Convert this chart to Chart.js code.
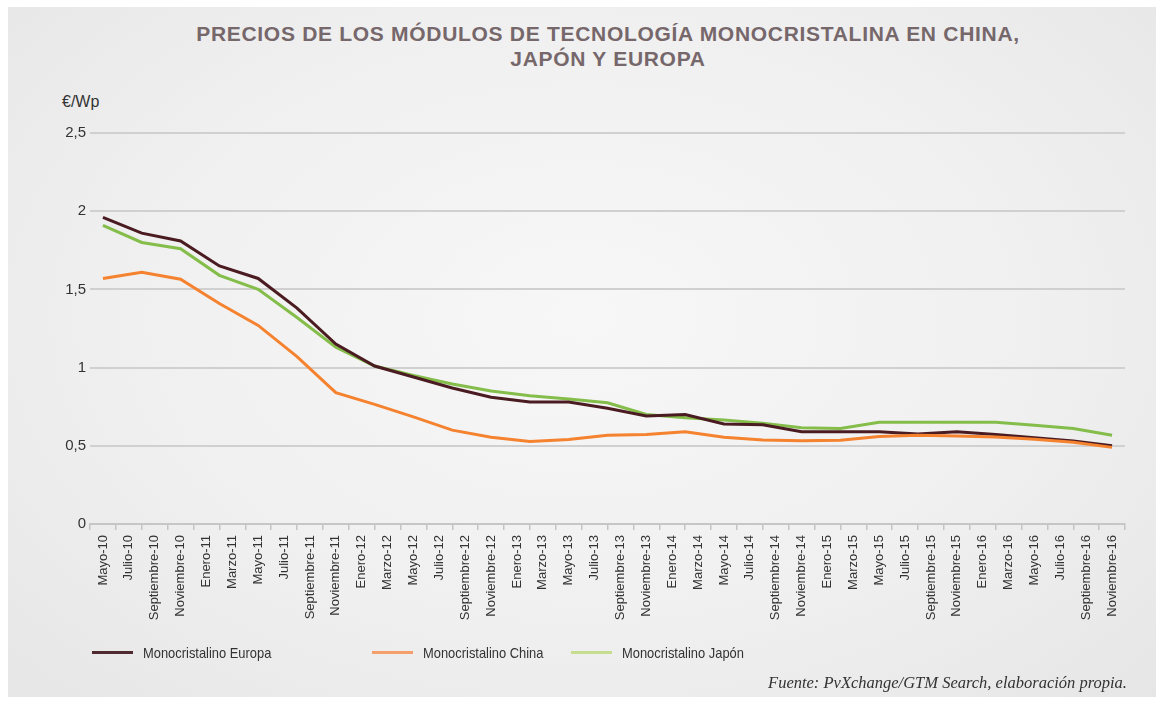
<!DOCTYPE html>
<html lang="es">
<head>
<meta charset="utf-8">
<title>Precios de los módulos monocristalinos</title>
<script src="https://cdn.jsdelivr.net/npm/chart.js@4.4.1/dist/chart.umd.min.js"></script>
<style>
  html, body { margin: 0; padding: 0; background: #fff; }
  body {
    width: 1164px; height: 704px; position: relative; overflow: hidden;
    font-family: "Liberation Sans", Arial, sans-serif;
  }
  .panel {
    position: absolute; left: 8px; top: 7px; right: 8px; bottom: 7px;
    background: radial-gradient(ellipse at 50% 45%, #f7f7f7 0%, #f0f0f0 55%, #e6e6e6 100%);
  }
  #chart { position: absolute; left: 0; top: 0; }
  .title {
    position: absolute; left: 26px; top: 21px; width: 1164px; text-align: center;
    font-weight: bold; font-size: 21px; line-height: 25px; letter-spacing: 0.7px; color: #76676b;
  }
  .unit { position: absolute; left: 62px; top: 93px; font-size: 16px; color: #333; }
  .legend-item {
    position: absolute; top: 643px; height: 18px; display: flex; align-items: center;
    font-size: 15px; color: #333; white-space: nowrap;
  }
  .legend-item i { display: inline-block; width: 41px; height: 3px; margin-right: 10px; flex: none; }
  .legend-item span { display: inline-block; transform: scaleX(0.86); transform-origin: left center; }
  .source {
    position: absolute; right: 37px; top: 673px;
    font-family: "Liberation Serif", serif; font-style: italic; font-size: 16.5px; color: #333;
  }
</style>
</head>
<body>
<div class="panel"></div>
<div class="title">PRECIOS DE LOS MÓDULOS DE TECNOLOGÍA MONOCRISTALINA EN CHINA,<br>JAPÓN Y EUROPA</div>
<div class="unit">€/Wp</div>
<canvas id="chart" width="1164" height="704"></canvas>
<div id="legend"></div>
<div class="source">Fuente: PvXchange/GTM Search, elaboración propia.</div>
<script>
"use strict";

// etiquetas del eje x (cada dos meses, mes 0 = mayo 2010)
const xTickLabels = [
  "Mayo-10", "Julio-10", "Septiembre-10", "Noviembre-10",
  "Enero-11", "Marzo-11", "Mayo-11", "Julio-11", "Septiembre-11", "Noviembre-11",
  "Enero-12", "Marzo-12", "Mayo-12", "Julio-12", "Septiembre-12", "Noviembre-12",
  "Enero-13", "Marzo-13", "Mayo-13", "Julio-13", "Septiembre-13", "Noviembre-13",
  "Enero-14", "Marzo-14", "Mayo-14", "Julio-14", "Septiembre-14", "Noviembre-14",
  "Enero-15", "Marzo-15", "Mayo-15", "Julio-15", "Septiembre-15", "Noviembre-15",
  "Enero-16", "Marzo-16", "Mayo-16", "Julio-16", "Septiembre-16", "Noviembre-16"
];

// datos trimestrales: mes desde mayo 2010
const pointMonths = [0, 3, 6, 9, 12, 15, 18, 21, 24, 27, 30, 33, 36, 39, 42, 45, 48, 51, 54, 57, 60, 63, 66, 69, 72, 75, 78];

const europa = [1.96, 1.86, 1.81, 1.65, 1.57, 1.38, 1.15, 1.01, 0.94, 0.87, 0.81, 0.78, 0.78, 0.74, 0.69, 0.70,
  0.64, 0.635, 0.59, 0.59, 0.59, 0.575, 0.59, 0.573, 0.551, 0.53, 0.50];
const china = [1.57, 1.61, 1.565, 1.41, 1.27, 1.07, 0.84, 0.765, 0.685, 0.60, 0.555, 0.527, 0.541, 0.568, 0.573, 0.59,
  0.555, 0.537, 0.533, 0.536, 0.56, 0.567, 0.562, 0.557, 0.542, 0.522, 0.49];
const japon = [1.91, 1.80, 1.76, 1.59, 1.50, 1.32, 1.13, 1.01, 0.95, 0.895, 0.85, 0.82, 0.80, 0.775, 0.70, 0.68,
  0.665, 0.645, 0.615, 0.61, 0.65, 0.65, 0.65, 0.65, 0.632, 0.611, 0.568];

const yTicks = [0, 0.5, 1, 1.5, 2, 2.5];

const seriesNames = ["Monocristalino Europa", "Monocristalino China", "Monocristalino Japón"];
const seriesColors = ["#4a1b21", "#f5822f", "#84bd4a"];
const legendColors = ["#4f2a30", "#f5a06c", "#c6dc8e"];
const legendLeft = [92, 372, 571];

function toPoints(values) {
  return values.map((v, i) => ({ x: pointMonths[i], y: v }));
}

function initLegend() {
  const box = document.getElementById("legend");
  seriesNames.forEach((name, i) => {
    const item = document.createElement("div");
    item.className = "legend-item";
    item.style.left = legendLeft[i] + "px";
    const swatch = document.createElement("i");
    swatch.style.background = legendColors[i];
    const text = document.createElement("span");
    text.textContent = name;
    item.append(swatch, text);
    box.appendChild(item);
  });
}

function initChart() {
  const ctx = document.getElementById("chart");
  const values = [europa, china, japon];
  const drawOrder = [1, 0, 2];

  new Chart(ctx, {
    type: "line",
    data: {
      datasets: values.map((vals, i) => ({
        label: seriesNames[i],
        data: toPoints(vals),
        borderColor: seriesColors[i],
        backgroundColor: seriesColors[i],
        borderWidth: 3,
        pointRadius: 0,
        tension: 0,
        fill: false,
        order: drawOrder[i]
      }))
    },
    options: {
      responsive: false,
      animation: false,
      events: [],
      layout: { padding: { left: 0, top: 133, right: 39, bottom: 80 } },
      plugins: { legend: { display: false }, tooltip: { enabled: false } },
      scales: {
        x: {
          type: "linear",
          min: -1,
          max: xTickLabels.length * 2 - 1,
          afterBuildTicks: (scale) => {
            const ticks = [];
            for (let m = -1; m <= xTickLabels.length * 2 - 1; m++) ticks.push({ value: m });
            scale.ticks = ticks;
          },
          afterFit: (scale) => { scale.height = 100; },
          ticks: {
            autoSkip: false,
            minRotation: 90,
            maxRotation: 90,
            padding: 5,
            color: "#333",
            font: { family: "'Liberation Sans Narrow', 'Liberation Sans', sans-serif", size: 13 },
            callback: (value) => (value >= 0 && value % 2 === 0 ? xTickLabels[value / 2] : "")
          },
          grid: {
            drawOnChartArea: false,
            drawTicks: true,
            tickLength: 6,
            lineWidth: 1.5,
            color: (c) => (c.tick && Math.abs(c.tick.value % 2) === 1 ? "#c4c4c4" : "rgba(0,0,0,0)")
          },
          border: { display: true, color: "#c6c6c6", width: 2 }
        },
        y: {
          min: 0,
          max: 2.5,
          afterBuildTicks: (scale) => { scale.ticks = yTicks.map((v) => ({ value: v })); },
          afterFit: (scale) => { scale.width = 90; },
          ticks: {
            padding: 4,
            color: "#333",
            font: { family: "'Liberation Sans', sans-serif", size: 15 },
            callback: (value) => String(value).replace(".", ",")
          },
          grid: { color: "#d0d0d0", lineWidth: 2, drawTicks: false },
          border: { display: false }
        }
      }
    }
  });
}

window.addEventListener("DOMContentLoaded", () => {
  initLegend();
  initChart();
});
</script>
</body>
</html>
